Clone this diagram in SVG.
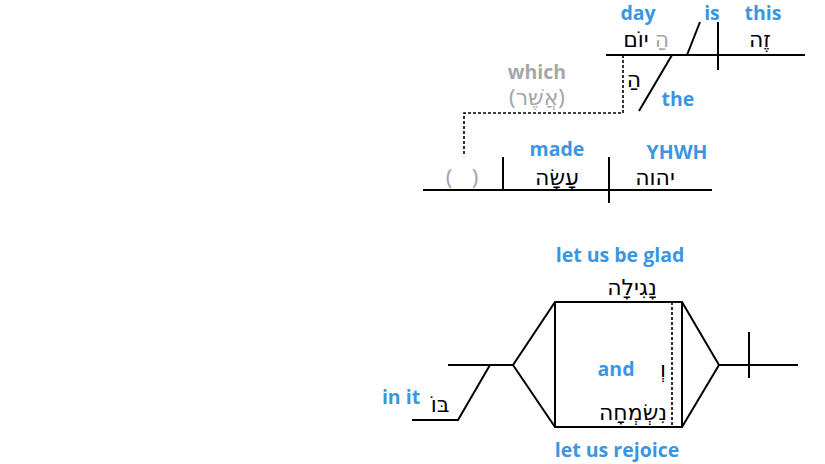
<svg xmlns="http://www.w3.org/2000/svg" width="825" height="464" viewBox="0 0 825 464">
<style>
.l{stroke:#000;stroke-width:2;fill:none}
.d{stroke:#000;stroke-width:1.6;fill:none;stroke-dasharray:3,2}
.en{font-family:"Open Sans","Liberation Sans",sans-serif;font-weight:bold;font-size:19.5px;fill:#3a96e0;text-anchor:middle}
.he{font-family:"Noto Sans","DejaVu Sans",sans-serif;font-size:22px;fill:#000;text-anchor:middle}
.g{fill:#a6a6a6}
</style>
<rect width="825" height="464" fill="#fff"/>
<g id="connectors">
<path class="d" d="M623,55 V113 H464 V155"/>
</g>
<g id="main-clause">
<path class="l" d="M606,55 H805"/>
<path class="l" d="M718,22 V70"/>
<path class="l" d="M687,55 L700,22"/>
<text class="en" x="638" y="20">day</text>
<text class="en" x="712" y="20">is</text>
<text class="en" x="763" y="20">this</text>
<text class="he g" x="662" y="47">הַ</text>
<text class="he" x="636" y="47">יוֹם</text>
<text class="he" x="760" y="47">זֶה</text>
</g>
<g id="article">
<path class="l" d="M672,55 L639,111"/>
<text class="he" x="634" y="87">הַ</text>
<text class="en" x="678" y="106">the</text>
</g>
<g id="relative-clause">
<text class="en g" x="537" y="79">which</text>
<text class="he g" x="537" y="105">(אֲשֶׁר)</text>
<path class="l" d="M423,190 H712"/>
<path class="l" d="M503,157 V190"/>
<path class="l" d="M609,157 V203"/>
<text class="he g" x="449" y="185">(</text>
<text class="he g" x="475" y="185">)</text>
<text class="en" x="557" y="156">made</text>
<text class="he" x="557" y="185">עָשָׂה</text>
<text class="en" x="677" y="159">YHWH</text>
<text class="he" x="655" y="185">יהוה</text>
</g>
<g id="compound-verb">
<path class="l" d="M448,365 H513 L555,302 H682 L719,365 L682,427 H555 L513,365"/>
<path class="l" d="M555,302 V427 M682,302 V427"/>
<path class="d" d="M672,302 V427"/>
<path class="l" d="M719,365 H798 M749,332 V378"/>
<text class="en" x="620" y="262">let us be glad</text>
<text class="he" x="632" y="295">נָגִילָה</text>
<text class="en" x="616" y="376">and</text>
<text class="he" x="663" y="377">וְ</text>
<text class="he" x="633" y="420">נִשְׂמְחָה</text>
<text class="en" x="617" y="457">let us rejoice</text>
</g>
<g id="prep-phrase">
<path class="l" d="M490,365 L458,420 H412"/>
<text class="en" x="401" y="404">in it</text>
<text class="he" x="440" y="412">בּוֹ</text>
</g>
</svg>
